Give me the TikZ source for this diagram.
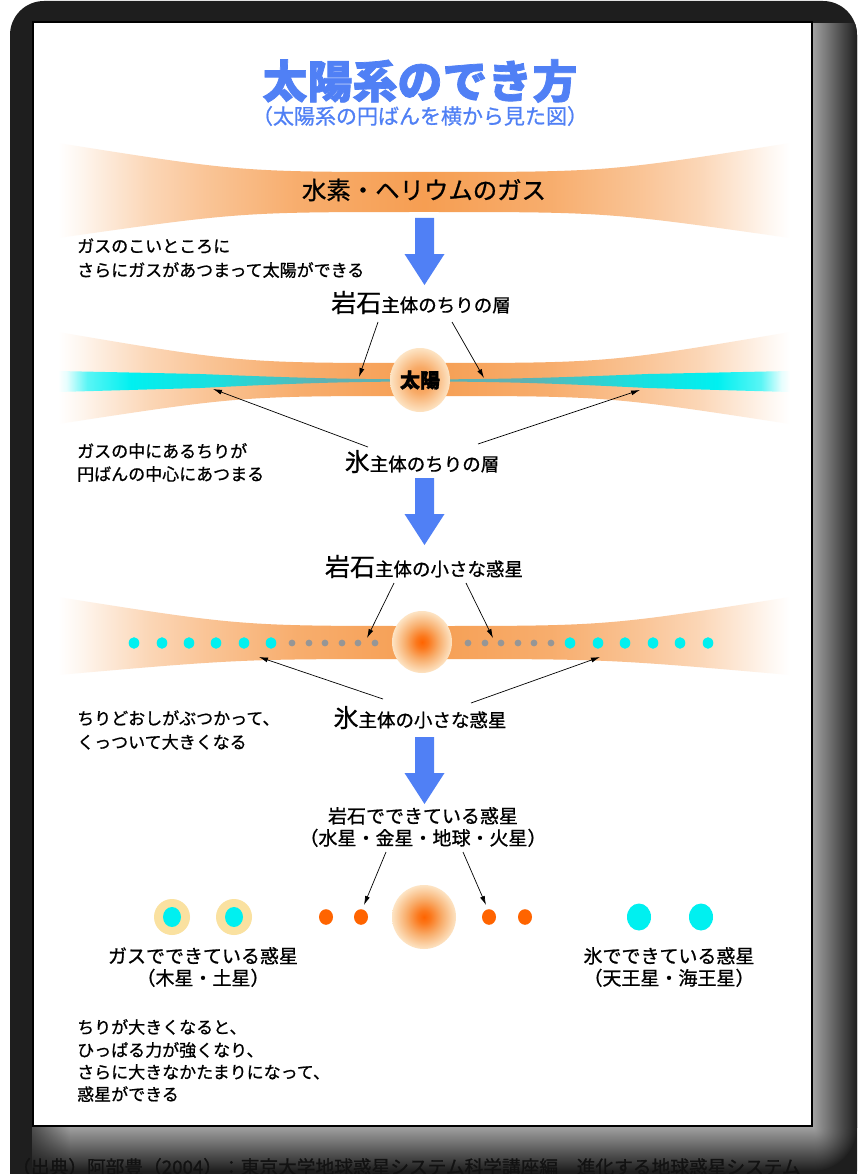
\documentclass[tikz,border=0pt]{standalone}
\usepackage{fontspec}
\setmainfont{Noto Sans CJK JP}[RawFeature={embolden=0.9}, BoldFeatures={RawFeature={embolden=1.6}}]
\usetikzlibrary{arrows.meta,fadings}

\definecolor{framedark}{RGB}{30,30,30}
\definecolor{framelight}{RGB}{160,160,160}
\definecolor{skyblue}{RGB}{80,128,245}
\definecolor{bandorange}{RGB}{246,158,82}
\definecolor{icecyan}{RGB}{0,240,240}
\definecolor{iceteal}{RGB}{95,178,178}
\definecolor{dustgray}{RGB}{150,150,150}
\definecolor{rockred}{RGB}{255,100,0}
\definecolor{gasyellow}{RGB}{250,225,160}
\definecolor{peach}{RGB}{253,228,196}
\definecolor{sunorange}{RGB}{246,150,70}
\definecolor{footink}{RGB}{18,18,18}

% orange gas disc, strongest in the middle and fading out at both ends
\pgfdeclarehorizontalshading{gasband}{100bp}{color(0bp)=(white); color(25bp)=(white);
  color(26.2bp)=(bandorange!7); color(28bp)=(bandorange!20); color(31.2bp)=(bandorange!42);
  color(35bp)=(bandorange!60); color(41.2bp)=(bandorange!84); color(50bp)=(bandorange);
  color(58.8bp)=(bandorange!84); color(65bp)=(bandorange!60); color(68.8bp)=(bandorange!42);
  color(72bp)=(bandorange!20); color(73.8bp)=(bandorange!7); color(75bp)=(white); color(100bp)=(white)}
% icy dust sheet: bright cyan outside, greyish teal towards the centre
\pgfdeclarehorizontalshading{icesheet}{100bp}{color(0bp)=(white); color(25bp)=(white);
  color(25.6bp)=(icecyan!10); color(27bp)=(icecyan!65); color(30bp)=(icecyan);
  color(36bp)=(icecyan!70!iceteal); color(43bp)=(iceteal); color(57bp)=(iceteal);
  color(64bp)=(icecyan!70!iceteal); color(70bp)=(icecyan); color(73bp)=(icecyan!65);
  color(74.4bp)=(icecyan!10); color(75bp)=(white); color(100bp)=(white)}
% young sun and later suns
\pgfdeclareradialshading{sunsoft}{\pgfpoint{0bp}{0bp}}{color(0bp)=(sunorange);
  color(10bp)=(sunorange!75!peach); color(25bp)=(peach); color(50bp)=(peach)}
\pgfdeclareradialshading{sunhot}{\pgfpoint{0bp}{0bp}}{color(0bp)=(rockred);
  color(5bp)=(rockred!60!sunorange); color(14bp)=(sunorange!70!peach); color(25bp)=(peach); color(50bp)=(peach)}

\tikzfading[name=fadeout right, left color=transparent!0, right color=transparent!100]

\newcommand\bigchar[1]{{\fontsize{25}{28}\selectfont #1}}
\newcommand\halfp[1]{{\addfontfeature{RawFeature=+halt}#1}}

\begin{document}
\begin{tikzpicture}[x=1pt,y=-1pt,
  note/.style={inner sep=0pt, anchor=west, font=\fontsize{17}{20}\selectfont},
  layer/.style={inner sep=0pt, anchor=base, font=\fontsize{18.5}{22}\selectfont},
  planet/.style={inner sep=0pt, align=center, font=\fontsize{19}{23}\selectfont},
  ptr/.style={draw=black, line width=0.7pt, -{Latex[length=9pt,width=5pt]}},
  blockarrow/.pic={\fill[skyblue] (-9.5,0) -- (9.5,0) -- (9.5,36) -- (20,36) -- (0,67) -- (-20,36) -- (-9.5,36) -- cycle;}]
\useasboundingbox (0,0) rectangle (859,1174);

% ---------- dark rounded frame with lit lower and right rims ----------
\begin{scope}
  \clip[rounded corners=34] (10,1) rectangle (857,1205);
  \fill[framedark] (0,0) rectangle (859,1205);
  \shade[left color=framelight, right color=framedark] (813,24) rectangle (857,1127);
  \shade[top color=framelight, bottom color=framedark] (32,1127) rectangle (813,1171);
  \begin{scope}
    \clip (813,1127) rectangle (859,1180);
    \shade[inner color=framelight, outer color=framedark] (813,1127) circle (44);
  \end{scope}
  \fill[framedark, path fading=fadeout right] (10,1127) rectangle (70,1180);
  \node[inner sep=0pt, anchor=base west, text=footink, font=\fontsize{18.7}{22}\selectfont]
    (source) at (12,1174) {（出典）阿部豊（2004）：東京大学地球惑星システム科学講座編　進化する地球惑星システム};
\end{scope}
\draw[line width=2.2pt, fill=white] (33,22) rectangle (812,1126);

% ---------- title ----------
\node[inner sep=0pt, text=skyblue, font=\fontsize{45}{50}\selectfont\bfseries] (title) at (420,81) {太陽系のでき方};
\node[inner sep=0pt, text=skyblue, font=\fontsize{21}{24}\selectfont] (subtitle) at (420,116) {\halfp{（}太陽系の円ばんを横から見た図\halfp{）}};

% ---------- stage 1: hydrogen / helium gas ----------
\shade[shading=gasband] (58,143) .. controls (241,172) .. (424,172) .. controls (607,172) .. (790,143)
  -- (790,238) .. controls (607,212) .. (424,212) .. controls (241,212) .. (58,238) -- cycle;
\node[inner sep=0pt, font=\fontsize{24.4}{28}\selectfont] (gas) at (424,190) {水素・ヘリウムのガス};
\pic at (424.5,218) {blockarrow};
\node[note] (n1a) at (77,246) {ガスのこいところに};
\node[note] (n1b) at (77,270) {さらにガスがあつまって太陽ができる};

% ---------- stage 2: dust settles to the mid-plane ----------
\node[layer] (rock2) at (421,312) {\bigchar{岩石}主体のちりの層};
\shade[shading=gasband] (58,332) .. controls (241,363) .. (424,363) .. controls (607,363) .. (790,332)
  -- (790,424) .. controls (607,396) .. (424,396) .. controls (241,396) .. (58,424) -- cycle;
\shade[shading=icesheet] (58,371) -- (200,374) .. controls (300,378) and (350,379.3) .. (424,379.4)
  .. controls (498,379.3) and (548,378) .. (648,374) -- (790,371)
  -- (790,392) -- (648,388) .. controls (548,383) and (498,381.6) .. (424,381.5)
  .. controls (350,381.6) and (300,383) .. (200,388) -- (58,392) -- cycle;
\shade[shading=sunsoft] (420,380) ellipse [x radius=30, y radius=32];
\node[inner sep=0pt, font=\fontsize{20}{24}\selectfont\bfseries] (sun2) at (420,380) {太陽};
\coordinate (rock2L) at (378,322);  \coordinate (rock2R) at (452,322);
\coordinate (dust2L) at (359,377);  \coordinate (dust2R) at (484,378);
\draw[ptr] (rock2L) -- (dust2L);
\draw[ptr] (rock2R) -- (dust2R);
\node[layer] (ice2) at (422,471) {\bigchar{氷}主体のちりの層};
\coordinate (ice2L) at (368,447);  \coordinate (ice2R) at (478,444);
\coordinate (sheet2L) at (213,389); \coordinate (sheet2R) at (640,390);
\draw[ptr] (ice2L) -- (sheet2L);
\draw[ptr] (ice2R) -- (sheet2R);
\node[note] (n2a) at (77,451) {ガスの中にあるちりが};
\node[note] (n2b) at (77,474) {円ばんの中心にあつまる};
\pic at (424.5,478) {blockarrow};

% ---------- stage 3: small planets ----------
\node[layer] (rock3) at (424,576) {\bigchar{岩石}主体の小さな惑星};
\shade[shading=gasband] (58,597) .. controls (241,626) .. (424,626) .. controls (607,626) .. (790,597)
  -- (790,675) .. controls (607,659) .. (424,659) .. controls (241,659) .. (58,675) -- cycle;
\foreach \x in {134,162,189,216,244,271,570,598,625,653,680,708}
  \fill[icecyan] (\x,643) ellipse [x radius=5.3, y radius=5.8];
\foreach \x in {292,309,325,342,358,375,468,485,501,518,534,551}
  \fill[dustgray] (\x,643) circle (3.4);
\shade[shading=sunhot] (422,642) ellipse [x radius=30, y radius=31];
\coordinate (rock3L) at (394,583);  \coordinate (rock3R) at (466,583);
\coordinate (dots3L) at (367,638);  \coordinate (dots3R) at (493,638);
\draw[ptr] (rock3L) -- (dots3L);
\draw[ptr] (rock3R) -- (dots3R);
\node[layer] (ice3) at (420,727) {\bigchar{氷}主体の小さな惑星};
\coordinate (ice3L) at (383,699);  \coordinate (ice3R) at (471,703);
\coordinate (icy3L) at (259,657);  \coordinate (icy3R) at (600,657);
\draw[ptr] (ice3L) -- (icy3L);
\draw[ptr] (ice3R) -- (icy3R);
\node[note] (n3a) at (77,718) {ちりどおしがぶつかって、};
\node[note] (n3b) at (77,742) {くっついて大きくなる};
\pic at (424.5,737) {blockarrow};

% ---------- stage 4: planets ----------
\node[planet] (rocky) at (423,827) {岩石でできている惑星\\[-1pt]\halfp{（}水星・金星・地球・火星\halfp{）}};
\foreach \x in {172,234} {
  \fill[gasyellow] (\x,917) circle (18);
  \fill[icecyan] (\x,917) ellipse [x radius=9, y radius=10];
}
\foreach \x in {326,361,489,525}
  \fill[rockred] (\x,917) ellipse [x radius=7, y radius=7.8];
\shade[shading=sunhot] (424,917) circle (32);
\foreach \x in {639,701}
  \fill[icecyan] (\x,917) ellipse [x radius=12, y radius=13.5];
\coordinate (rocky4L) at (386,852);  \coordinate (rocky4R) at (463,852);
\coordinate (inner4L) at (364,905);  \coordinate (inner4R) at (486,905);
\draw[ptr] (rocky4L) -- (inner4L);
\draw[ptr] (rocky4R) -- (inner4R);
\node[planet] (giants) at (203,967) {ガスでできている惑星\\[-1pt]\halfp{（}木星・土星\halfp{）}};
\node[planet] (icegiants) at (669,967) {氷でできている惑星\\[-1pt]\halfp{（}天王星・海王星\halfp{）}};
\node[note] (n4a) at (77,1027) {ちりが大きくなると、};
\node[note] (n4b) at (77,1050) {ひっぱる力が強くなり、};
\node[note] (n4c) at (77,1072) {さらに大きなかたまりになって、};
\node[note] (n4d) at (77,1094) {惑星ができる};
\end{tikzpicture}
\end{document}
